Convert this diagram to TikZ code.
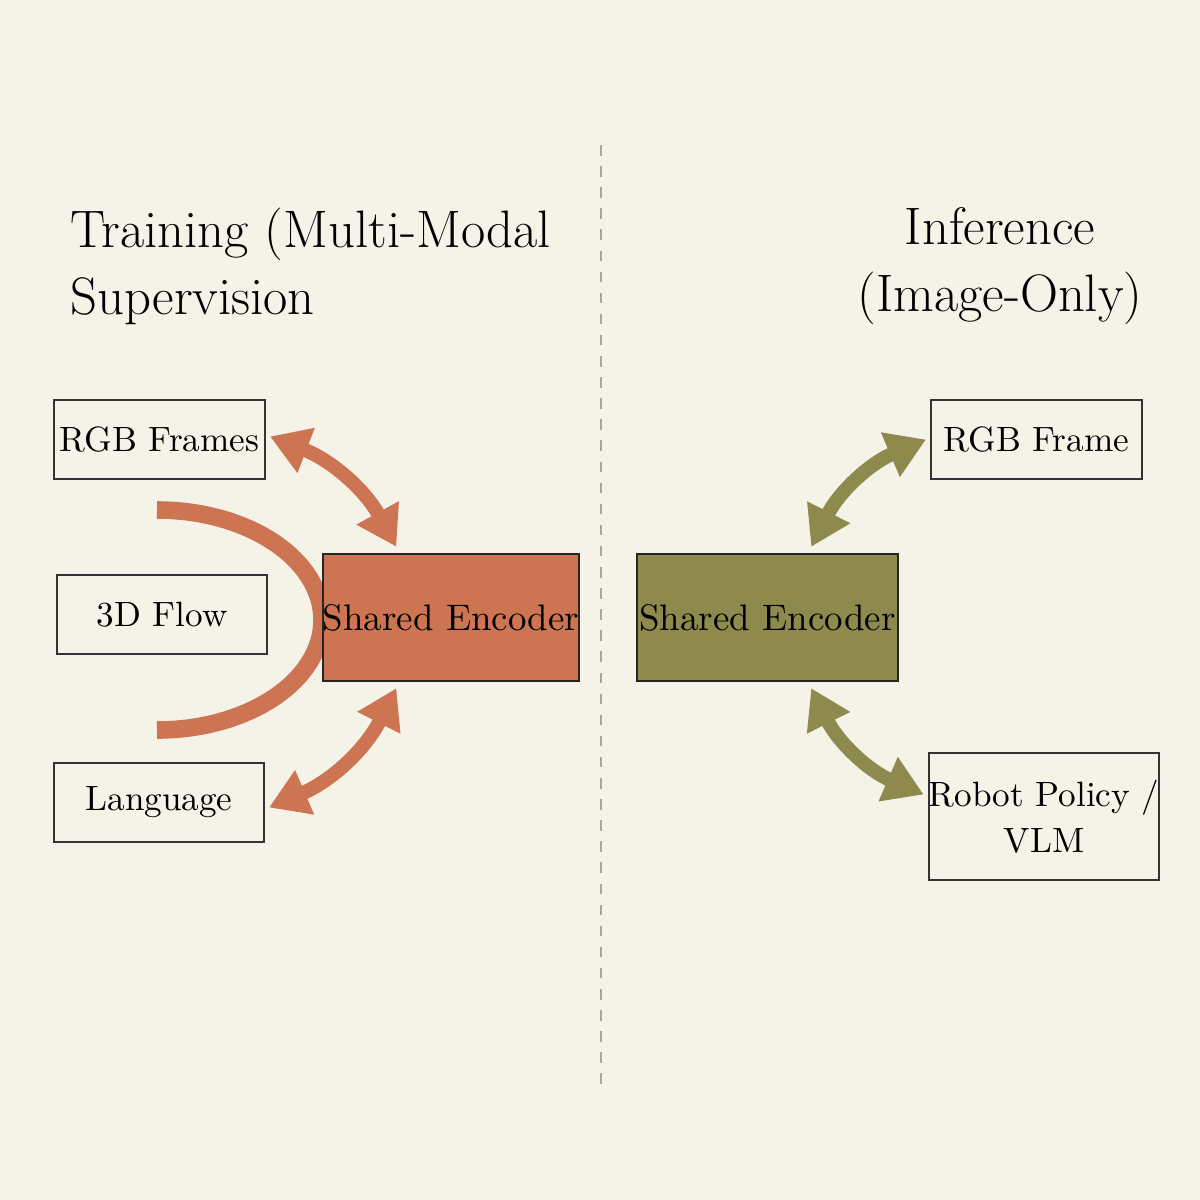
\documentclass[tikz,border=0pt]{standalone}
\usetikzlibrary{arrows.meta}
\definecolor{bg}{HTML}{F5F2E8}
\definecolor{org}{HTML}{CD7553}
\definecolor{olv}{HTML}{8E8A4D}
\newdimen\pxu \pxu=0.01cm
\begin{document}
\begin{tikzpicture}[x=0.01cm,y=-0.01cm,
  box/.style={draw=black!80,line width=0.6pt,fill=bg,font=\fontsize{10}{13}\selectfont,align=center,inner sep=0pt},
  enc/.style={draw=black!85,line width=0.7pt,font=\fontsize{10.5}{13}\selectfont,inner sep=0pt},
  title/.style={font=\fontsize{15}{19}\selectfont},
  barrow/.style={line width=4pt,{Triangle[length=11pt,width=13pt]}-{Triangle[length=11pt,width=13pt]}}]
\fill[bg] (0,0) rectangle (1200,1200);
\useasboundingbox (0,0) rectangle (1200,1200);
\draw[black!35,dashed,line width=0.5pt] (601,145) -- (601,1088);
\node[title,anchor=west,align=left] (t1) at (58,266) {Training (Multi-Modal\\Supervision};
\node[title,align=center] (t2) at (1000,266) {Inference\\(Image-Only)};
\node[box,minimum width=211\pxu,minimum height=79\pxu] (rgb) at (159.5,439.5) {RGB Frames};
\node[box,minimum width=210\pxu,minimum height=79\pxu] (flow) at (162,614.5) {3D Flow};
\node[box,minimum width=210\pxu,minimum height=79\pxu] (lang) at (159,802.5) {Language};
\draw[org,line width=5pt] (157,510) arc[start angle=-90,end angle=90,x radius=165,y radius=110];
\node[enc,fill=org,minimum width=256\pxu,minimum height=127\pxu] (encL) at (451,617.5) {Shared Encoder};
\node[enc,fill=olv,minimum width=261\pxu,minimum height=127\pxu] (encR) at (767.5,617.5) {Shared Encoder};
\node[box,minimum width=211\pxu,minimum height=79\pxu] (rgbR) at (1036.5,439.5) {RGB Frame};
\node[box,minimum width=222\pxu,minimum height=127\pxu] (pol) at (1044,816.5) {Robot Policy /\\VLM};
\draw[org,barrow] ([xshift=4\pxu,yshift=3\pxu]rgb.east) to[bend left=20] ([xshift=-184\pxu,yshift=6\pxu]encL.north east);
\draw[org,barrow] ([xshift=4\pxu,yshift=-5\pxu]lang.east) to[bend right=20] ([xshift=-184\pxu,yshift=-6\pxu]encL.south east);
\draw[olv,barrow] ([xshift=-4\pxu]rgbR.west) to[bend right=20] ([xshift=-88\pxu,yshift=6\pxu]encR.north east);
\draw[olv,barrow] ([xshift=-88\pxu,yshift=-6\pxu]encR.south east) to[bend right=20] ([xshift=-4\pxu,yshift=22\pxu]pol.west);
\end{tikzpicture}
\end{document}
